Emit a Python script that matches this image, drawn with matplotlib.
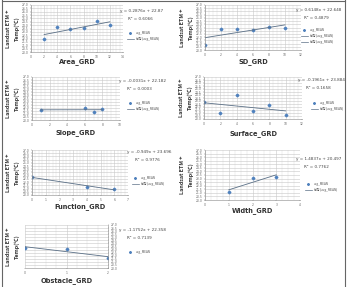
import numpy as np
import matplotlib
matplotlib.use("Agg")
import matplotlib.pyplot as plt
from matplotlib.ticker import MultipleLocator, AutoMinorLocator

# values (y = Landsat ETM+ temperature)
area_x = [2, 4, 6, 8, 10, 12]
area_y = [21.93, 23.72, 23.42, 23.57, 24.62, 24.02]
sd_x = [0, 2, 4, 6, 8, 10]
sd_y = [20.78, 23.27, 23.32, 23.11, 23.58, 23.42]
slope_x = [1, 6, 7, 8]
slope_y = [21.63, 21.95, 21.30, 21.79]
surface_x = [0, 2, 4, 6, 8, 10]
surface_y = [22.83, 21.00, 24.00, 21.33, 22.33, 20.67]
function_x = [0, 4, 6]
function_y = [22.80, 21.25, 20.93]
width_x = [1, 2, 3]
width_y = [21.12, 23.08, 23.22]
obstacle_x = [0, 1, 2]
obstacle_y = [23.25, 23.09, 21.63]

W, H = 348, 287
fig = plt.figure(figsize=(W / 100, H / 100), dpi=100)
KR = ['Noto Sans CJK KR', 'DejaVu Sans']
MK = '#4F81BD'
LN = '#5a6f86'


def fx(px):
    return px / W


def fy(py):
    return 1 - py / H


def panel(box, x, y, xmax, xstep, name, eq, r2, eqpos, legpos, xlab_y, ylab_x,
          nleg=2, right=False):
    l, t, r, b = box
    ax = fig.add_axes([fx(l), fy(b), fx(r) - fx(l), fy(t) - fy(b)])
    ax.plot(x, y, linestyle='none', marker='D', ms=1.4, color=MK)
    k, c = np.polyfit(x, y, 1)
    xs = np.array([min(x), max(x)])
    ax.plot(xs, k * xs + c, color=LN, lw=0.6)
    ax.set_xlim(0, xmax)
    ax.set_ylim(20, 27)
    ax.xaxis.set_major_locator(MultipleLocator(xstep))
    ax.xaxis.set_minor_locator(AutoMinorLocator(4))
    ax.yaxis.set_major_locator(MultipleLocator(0.5))
    ax.grid(True, which='major', color='#c8c8c8', lw=0.4)
    ax.grid(True, which='minor', axis='x', color='#dcdcdc', lw=0.3)
    ax.tick_params(labelsize=2.2, length=1, width=0.3, pad=1, colors='#666666')
    ax.tick_params(which='minor', length=0)
    if right:
        ax.yaxis.tick_right()
    for s in ax.spines.values():
        s.set_linewidth(0.4)
        s.set_color('#888888')
    ax.spines['top'].set_visible(False)
    ax.spines['right' if not right else 'left'].set_visible(False)
    ex, ey = eqpos
    fig.text(fx(ex), fy(ey), eq, fontsize=3.0, va='center', color='#444444')
    fig.text(fx(ex + 8), fy(ey + 8), r2, fontsize=3.0, va='center', color='#444444')
    lx, ly = legpos
    labels = ['avg_MEAN', '선형 (avg_MEAN)', '선형 (avg_MEAN)'][:nleg]
    for i, lab in enumerate(labels):
        yy = ly + i * 6
        if i == 0:
            fig.lines.append(plt.Line2D([fx(lx)], [fy(yy)],
                             transform=fig.transFigure, ls='none', marker='D',
                             ms=1.0, color=MK))
        else:
            fig.lines.append(plt.Line2D([fx(lx - 3), fx(lx + 4)], [fy(yy)] * 2,
                             transform=fig.transFigure, lw=0.5, color=LN))
        fig.text(fx(lx + 6), fy(yy), lab, fontsize=2.2, va='center',
                 family=KR, color='#555555')
    fig.text(fx((l + r) / 2), fy(xlab_y), name, fontsize=4.8, fontweight='bold',
             ha='center', va='center', color='#333333')
    fig.text(fx(ylab_x), fy((t + b) / 2), 'Landsat ETM +\nTemp(℃)', fontsize=3.9,
             fontweight='bold', rotation=90, ha='center', va='center',
             family=KR, color='#333333', linespacing=1.9)
    return ax


panel((31, 5, 123, 52), area_x, area_y, 14, 2, 'Area_GRD',
      'y = 0.2876x + 22.87', 'R² = 0.6066', (120, 11), (130, 33), 62, 13)
panel((205, 5, 301, 50), sd_x, sd_y, 12, 2, 'SD_GRD',
      'y = 0.6148x + 22.648', 'R² = 0.4879', (296, 10), (304, 30), 62, 187, nleg=3)
panel((32, 77, 120, 120), slope_x, slope_y, 10, 2, 'Slope_GRD',
      'y = -0.0031x + 22.182', 'R² = 0.0003', (119, 81), (130, 103), 133, 13)
panel((204, 77, 302, 119), surface_x, surface_y, 12, 2, 'Surface_GRD',
      'y = -0.1961x + 23.884', 'R² = 0.1658', (298, 80), (314, 103), 134, 186)
panel((32, 150, 128, 195), function_x, function_y, 7, 1, 'Function_GRD',
      'y = -0.949x + 23.696', 'R² = 0.9776', (127, 152), (135, 178), 207, 13)
panel((205, 150, 300, 200), width_x, width_y, 4, 1, 'Width_GRD',
      'y = 1.4837x + 20.497', 'R² = 0.7762', (296, 159), (308, 184), 211, 187)
panel((25, 225, 108, 268), obstacle_x, obstacle_y, 2, 1, 'Obstacle_GRD',
      'y = -1.1752x + 22.358', 'R² = 0.7139', (119, 230), (130, 252), 281, 13,
      nleg=1, right=True)

# outer frame lines (left, right, top)
for xs_, ys_ in [([2, 2], [0, 287]), ([345, 345], [0, 287]), ([2, 345], [1, 1])]:
    fig.lines.append(plt.Line2D([fx(v) for v in xs_], [fy(v) for v in ys_],
                     transform=fig.transFigure, lw=0.8, color='#666666'))

fig.savefig('out.png', dpi=100)
